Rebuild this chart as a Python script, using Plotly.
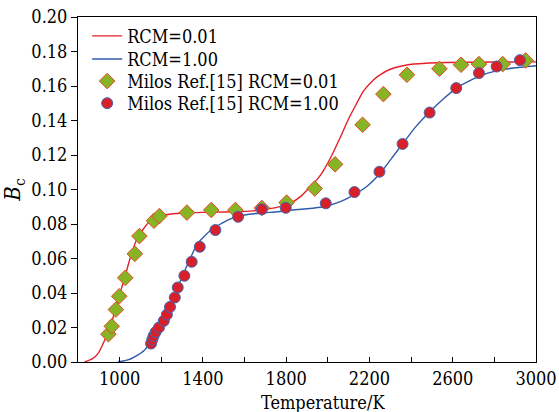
import plotly.graph_objects as go

# Model curves: critical value B_c versus temperature
t_rcm001 = [832, 870, 896, 928, 960, 992, 1023, 1055, 1088, 1136, 1180, 1215,
            1328, 1450, 1552, 1640, 1697, 1760, 1819, 1870, 1915, 1950, 1979,
            2020, 2059, 2100, 2139, 2171, 2219, 2251, 2300, 2379, 2470, 2571,
            2800, 3000]
b_rcm001 = [0.0, 0.002, 0.0049, 0.0126, 0.0223, 0.0358, 0.0484, 0.062, 0.0726,
            0.0804, 0.0838, 0.0852, 0.0865, 0.0869, 0.0871, 0.0876, 0.0885,
            0.0898, 0.092, 0.096, 0.1016, 0.106, 0.111, 0.120, 0.130, 0.141,
            0.150, 0.157, 0.1635, 0.1665, 0.1697, 0.1722, 0.1732, 0.1736,
            0.1739, 0.174]

t_rcm100 = [992, 1040, 1072, 1119, 1167, 1215, 1250, 1280, 1328, 1375, 1439,
            1519, 1599, 1680, 1760, 1819, 1900, 1979, 2050, 2123, 2190, 2251,
            2300, 2355, 2420, 2491, 2560, 2617, 2680, 2731, 2800, 2891, 3000]
b_rcm100 = [0.0, 0.0012, 0.003, 0.0068, 0.0145, 0.0261, 0.035, 0.0436, 0.0571,
            0.0688, 0.0765, 0.0823, 0.0852, 0.0864, 0.0871, 0.088, 0.0888, 0.090,
            0.0925, 0.0968, 0.102, 0.1094, 0.117, 0.1258, 0.136, 0.1452, 0.153,
            0.1588, 0.163, 0.1659, 0.1685, 0.1704, 0.1717]

# Reference data (Milos, Ref. [15])
t_milos001 = [946, 962, 982, 998, 1027, 1073, 1095, 1165, 1191, 1323, 1440,
              1556, 1683, 1802, 1937, 2035, 2167, 2267, 2380, 2536, 2640,
              2726, 2840, 2950]
b_milos001 = [0.0161, 0.0207, 0.0304, 0.0381, 0.0488, 0.0627, 0.073, 0.0819,
              0.0846, 0.0866, 0.0881, 0.0881, 0.0893, 0.0924, 0.1006, 0.1146,
              0.1375, 0.1553, 0.1665, 0.170, 0.1723, 0.1727, 0.1727, 0.1748]

t_milos100 = [1151, 1157, 1163, 1173, 1189, 1212, 1227, 1242, 1265, 1279,
              1311, 1346, 1385, 1460, 1569, 1683, 1798, 1990, 2128, 2248,
              2359, 2489, 2617, 2726, 2811, 2923]
b_milos100 = [0.0107, 0.013, 0.0151, 0.0174, 0.020, 0.0238, 0.0275, 0.0319,
              0.0374, 0.0432, 0.050, 0.0581, 0.0668, 0.0765, 0.0842, 0.0885,
              0.0894, 0.092, 0.0985, 0.1103, 0.1264, 0.1446, 0.1588, 0.1675,
              0.1713, 0.175]

x_tickvals = [1000, 1400, 1800, 2200, 2600, 3000]
y_tickvals = [0.00, 0.02, 0.04, 0.06, 0.08, 0.10, 0.12, 0.14, 0.16, 0.18, 0.20]

RED = "#e3202a"
BLUE = "#2f5ba8"
FONT = "DejaVu Serif Condensed, DejaVu Serif, serif"
FSIZE = 18

fig = go.Figure()
fig.add_trace(go.Scatter(x=t_rcm001, y=b_rcm001, mode="lines", name="RCM=0.01",
                         legend="legend",
                         line=dict(color=RED, width=1.4, shape="spline", smoothing=0.5)))
fig.add_trace(go.Scatter(x=t_rcm100, y=b_rcm100, mode="lines", name="RCM=1.00",
                         legend="legend2",
                         line=dict(color=BLUE, width=1.4, shape="spline", smoothing=0.5)))
fig.add_trace(go.Scatter(x=t_milos001, y=b_milos001, mode="markers",
                         name="Milos Ref.[15] RCM=0.01", legend="legend3",
                         marker=dict(symbol="diamond", size=12, color="#86b424",
                                     line=dict(color="#e8482a", width=1))))
fig.add_trace(go.Scatter(x=t_milos100, y=b_milos100, mode="markers",
                         name="Milos Ref.[15] RCM=1.00", legend="legend4",
                         marker=dict(symbol="circle", size=11, color="#d8202a",
                                     line=dict(color="#4466b0", width=1))))

# one legend box per row so the rows sit at fixed heights
legend_rows = [0.998, 0.931, 0.867, 0.803]
legend_style = dict(x=0.02, xanchor="left", yanchor="top",
                    bgcolor="rgba(0,0,0,0)", itemwidth=30,
                    font=dict(family=FONT, size=FSIZE))

fig.update_layout(
    width=559, height=412,
    margin=dict(l=78, r=23, t=17, b=50),
    paper_bgcolor="white", plot_bgcolor="white",
    font=dict(family=FONT, size=FSIZE, color="black"),
    showlegend=True,
    legend=dict(y=legend_rows[0], **legend_style),
    legend2=dict(y=legend_rows[1], **legend_style),
    legend3=dict(y=legend_rows[2], **legend_style),
    legend4=dict(y=legend_rows[3], **legend_style),
    annotations=[dict(text="Temperature/K", xref="paper", yref="paper",
                      x=0.535, y=-0.117, xanchor="center", yanchor="middle",
                      showarrow=False, font=dict(family=FONT, size=FSIZE))],
)
fig.update_xaxes(
    range=[800, 3000], tickvals=x_tickvals, automargin=False,
    ticks="inside", ticklen=5, tickcolor="black",
    minor=dict(dtick=200, tick0=800, ticks="inside", ticklen=5, tickcolor="black"),
    showline=True, linecolor="black", linewidth=1, mirror=True,
    showgrid=False, zeroline=False,
)
fig.update_yaxes(
    range=[0, 0.20], tickvals=y_tickvals, tickformat=".2f", automargin=False,
    ticks="outside", ticklen=6, tickcolor="black",
    showline=True, linecolor="black", linewidth=1, mirror=True,
    showgrid=False, zeroline=False,
    title=dict(text="<i>B</i><sub>c</sub>", standoff=6),
)

fig.write_html("out.html")
